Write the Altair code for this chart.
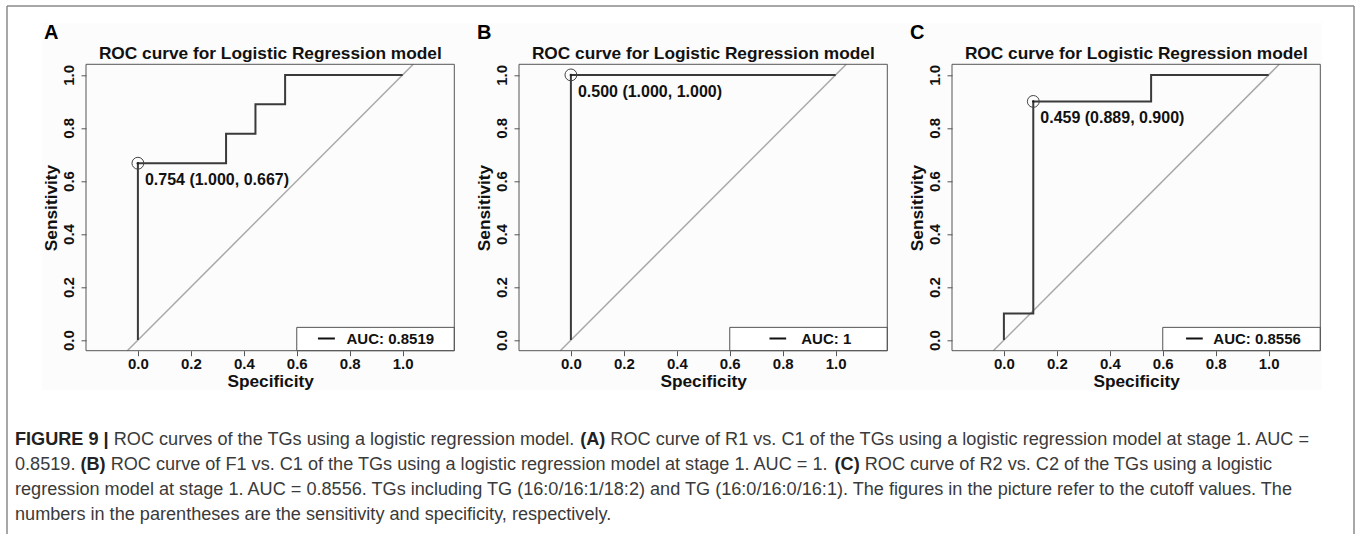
import altair as alt
import pandas as pd

# ---------------- data ----------------
PANELS = ["A", "B", "C"]
PLOT_TITLE = "ROC curve for Logistic Regression model"
TICKS = [0.0, 0.2, 0.4, 0.6, 0.8, 1.0]

roc_spec = {
    "A": [0.0, 0.0, 0.333, 0.333, 0.444, 0.444, 0.556, 0.556, 1.0],
    "B": [0.0, 0.0, 1.0],
    "C": [0.0, 0.0, 0.111, 0.111, 0.556, 0.556, 1.0],
}
roc_sens = {
    "A": [0.0, 0.667, 0.667, 0.778, 0.778, 0.889, 0.889, 1.0, 1.0],
    "B": [0.0, 1.0, 1.0],
    "C": [0.0, 0.1, 0.1, 0.9, 0.9, 1.0, 1.0],
}
best_spec = [0.0, 0.0, 0.111]
best_sens = [0.667, 1.0, 0.9]
best_label = ["0.754 (1.000, 0.667)", "0.500 (1.000, 1.000)", "0.459 (0.889, 0.900)"]
auc_label = ["AUC: 0.8519", "AUC: 1", "AUC: 0.8556"]
diag_vals = [-0.04, 1.04]

caption_lines = [
    [("FIGURE 9 |", True), (" ROC curves of the TGs using a logistic regression model. ", False),
     ("(A)", True), (" ROC curve of R1 vs. C1 of the TGs using a logistic regression model at stage 1. AUC =", False)],
    [("0.8519. ", False), ("(B)", True),
     (" ROC curve of F1 vs. C1 of the TGs using a logistic regression model at stage 1. AUC = 1. ", False),
     ("(C)", True), (" ROC curve of R2 vs. C2 of the TGs using a logistic", False)],
    [("regression model at stage 1. AUC = 0.8556. TGs including TG (16:0/16:1/18:2) and TG (16:0/16:0/16:1). "
      "The figures in the picture refer to the cutoff values. The", False)],
    [("numbers in the parentheses are the sensitivity and specificity, respectively.", False)],
]

# ---------------- layout ----------------
FONT = "Liberation Sans"
X_DOM = [-0.196, 1.195]
Y_DOM = [-0.04, 1.04]
PW, PH = 368.3, 286.4
PITCH = 433.0
ORIGIN_X, ORIGIN_Y = 86.0, 64.3
W_TOTAL, H_TOTAL = 1357, 534
VIEW_W = 2 * PITCH + PW
legend_layout = {  # line start, line end, text start (data units)
    "A": (0.68, 0.744, 0.788),
    "B": (0.75, 0.813, 0.870),
    "C": (0.688, 0.751, 0.791),
}
LEG_LEFT, LEG_TOP, LEG_Y = 0.6, 0.048, 0.006

AXIS_COL = "#555555"
TXT = "#111111"


def panel(i, name):
    off = i * PITCH
    xs = alt.Scale(domain=X_DOM, range=[off, off + PW], nice=False, zero=False)
    ys = alt.Scale(domain=Y_DOM, range=[PH, 0], nice=False, zero=False)
    xax = alt.Axis(orient="bottom", values=TICKS, format=".1f", title="Specificity",
                   domain=False, grid=False, tickSize=5, tickColor=AXIS_COL, tickWidth=1,
                   labelFont=FONT, labelFontWeight="bold", labelFontSize=15, labelColor=TXT,
                   labelBaseline="middle", labelAlign="center", labelPadding=8,
                   labelFlush=False, labelOverlap=False, zindex=2,
                   titleFont=FONT, titleFontWeight="bold", titleFontSize=17.3, titleColor=TXT,
                   titleX=off + PW / 2, titleY=31, titleBaseline="middle", titleAlign="center")
    yax = alt.Axis(orient="left", offset=-off, values=TICKS, format=".1f", title="Sensitivity",
                   domain=False, grid=False, tickSize=5, tickColor=AXIS_COL, tickWidth=1,
                   labelFont=FONT, labelFontWeight="bold", labelFontSize=15, labelColor=TXT,
                   labelAngle=270, labelAlign="center", labelBaseline="middle", labelPadding=13,
                   labelFlush=False, labelOverlap=False, zindex=2,
                   titleFont=FONT, titleFontWeight="bold", titleFontSize=17.3, titleColor=TXT,
                   titleX=-34.5, titleY=PH / 2, titleAngle=270, titleAlign="center",
                   titleBaseline="middle")
    X = alt.X("x:Q", scale=xs, axis=xax)
    Y = alt.Y("y:Q", scale=ys, axis=yax)

    diag = alt.Chart(pd.DataFrame({"x": diag_vals, "y": diag_vals})).mark_line(
        color="#a8a8a8", strokeWidth=1.5).encode(x=X, y=Y)

    curve_df = pd.DataFrame({"x": roc_spec[name], "y": roc_sens[name],
                             "o": list(range(len(roc_spec[name])))})
    curve = alt.Chart(curve_df).mark_line(color="#3a3a3a", strokeWidth=2).encode(
        x=X, y=Y, order="o:Q")

    l0, l1, lt = legend_layout[name]
    leg_box = alt.Chart(pd.DataFrame({"x": [LEG_LEFT], "x2": [X_DOM[1]],
                                      "y": [Y_DOM[0]], "y2": [LEG_TOP]})).mark_rect(
        fill="white", stroke=AXIS_COL, strokeWidth=1).encode(
        x=X, x2="x2:Q", y=Y, y2="y2:Q")
    leg_line = alt.Chart(pd.DataFrame({"x": [l0], "x2": [l1], "y": [LEG_Y]})).mark_rule(
        color="#111", strokeWidth=2).encode(x=X, x2="x2:Q", y=Y)
    leg_txt = alt.Chart(pd.DataFrame({"x": [lt], "y": [LEG_Y], "t": [auc_label[i]]})).mark_text(
        align="left", baseline="middle", font=FONT, fontWeight="bold", fontSize=15,
        color=TXT).encode(x=X, y=Y, text="t:N")

    pt_df = pd.DataFrame({"x": [best_spec[i]], "y": [best_sens[i]], "t": [best_label[i]]})
    circ = alt.Chart(pt_df).mark_point(shape="circle", size=140, filled=False,
                                       color="#444", strokeWidth=1, opacity=1).encode(x=X, y=Y)
    dot = alt.Chart(pt_df).mark_point(shape="circle", size=6, filled=True,
                                      color="#222", opacity=1).encode(x=X, y=Y)
    pt_txt = alt.Chart(pt_df).mark_text(align="left", baseline="middle", dx=7, dy=17,
                                        font=FONT, fontWeight="bold", fontSize=16,
                                        color=TXT).encode(x=X, y=Y, text="t:N")

    box = alt.Chart(pd.DataFrame({"x": [X_DOM[0]], "x2": [X_DOM[1]],
                                  "y": [Y_DOM[0]], "y2": [Y_DOM[1]]})).mark_rect(
        fillOpacity=0, stroke=AXIS_COL, strokeWidth=1).encode(x=X, x2="x2:Q", y=Y, y2="y2:Q")

    title = alt.Chart(pd.DataFrame({"x": [0.5], "t": [PLOT_TITLE]})).mark_text(
        align="center", baseline="middle", font=FONT, fontWeight="bold", fontSize=17.3,
        color=TXT).encode(x=X, y=alt.value(54 - ORIGIN_Y), text="t:N")
    letter = alt.Chart(pd.DataFrame({"x": [-0.355], "t": [name]})).mark_text(
        align="left", baseline="middle", font=FONT, fontWeight="bold", fontSize=20,
        color="#000").encode(x=X, y=alt.value(33 - ORIGIN_Y), text="t:N")

    return alt.layer(diag, curve, leg_box, leg_line, leg_txt, circ, dot, pt_txt, box,
                     title, letter)


# ---------------- caption (text positions computed from Arial metrics) ----------------
_reg = {' ': 278, '(': 333, ')': 333, ',': 278, '-': 333, '.': 278, '/': 278, ':': 278,
        '=': 584, '|': 260,
        'A': 667, 'B': 667, 'C': 722, 'D': 722, 'E': 667, 'F': 611, 'G': 778, 'H': 722,
        'I': 278, 'J': 500, 'K': 667, 'L': 556, 'M': 833, 'N': 722, 'O': 778, 'P': 667,
        'Q': 778, 'R': 722, 'S': 667, 'T': 611, 'U': 722, 'V': 667, 'W': 944, 'X': 667,
        'Y': 667, 'Z': 611,
        'a': 556, 'b': 556, 'c': 500, 'd': 556, 'e': 556, 'f': 278, 'g': 556, 'h': 556,
        'i': 222, 'j': 222, 'k': 500, 'l': 222, 'm': 833, 'n': 556, 'o': 556, 'p': 556,
        'q': 556, 'r': 333, 's': 500, 't': 278, 'u': 556, 'v': 500, 'w': 722, 'x': 500,
        'y': 500, 'z': 500}
for d in "0123456789":
    _reg[d] = 556
_bold = {' ': 278, '(': 333, ')': 333, '.': 278, '|': 280, 'A': 722, 'B': 722, 'C': 722,
         'E': 667, 'F': 611, 'G': 778, 'I': 278, 'R': 722, 'U': 722}
for d in "0123456789":
    _bold[d] = 556


def em(s, bold):
    tab = _bold if bold else _reg
    return sum(tab.get(c, 556) for c in s) / 1000.0


CAP_X0, CAP_X1 = 15.0, 1311.0
CAP_Y = [440, 465, 490, 515]
cap_size = (CAP_X1 - CAP_X0) / sum(em(t, b) for t, b in caption_lines[0])

rows = []
for li, segs in enumerate(caption_lines):
    x = CAP_X0
    for t, b in segs:
        lead = len(t) - len(t.lstrip(" "))
        rows.append({"px": x + em(" " * lead, b) * cap_size - ORIGIN_X,
                     "py": CAP_Y[li] - ORIGIN_Y, "t": t.strip(), "bold": b})
        x += em(t, b) * cap_size
cap_df = pd.DataFrame(rows)

PX = alt.X("px:Q", scale=None, axis=None)
PY = alt.Y("py:Q", scale=None, axis=None)
cap_reg = alt.Chart(cap_df[~cap_df["bold"]]).mark_text(
    align="left", baseline="middle", font=FONT, fontSize=cap_size, color="#3a3a3a").encode(
    x=PX, y=PY, text="t:N")
cap_bold = alt.Chart(cap_df[cap_df["bold"]]).mark_text(
    align="left", baseline="middle", font=FONT, fontSize=cap_size, fontWeight="bold",
    color="#222").encode(x=PX, y=PY, text="t:N")

one = pd.DataFrame({"k": [0]})
tint = alt.Chart(one).mark_rect(fill="#fcfcfc").encode(
    x=alt.value(42 - ORIGIN_X), x2=alt.value(1322 - ORIGIN_X),
    y=alt.value(23 - ORIGIN_Y), y2=alt.value(390 - ORIGIN_Y))
FR = dict(color="#8a8a8a", strokeWidth=1.5)
frame_l = alt.Chart(one).mark_rule(**FR).encode(
    x=alt.value(7 - ORIGIN_X), y=alt.value(6 - ORIGIN_Y), y2=alt.value(H_TOTAL + 5 - ORIGIN_Y))
frame_r = alt.Chart(one).mark_rule(**FR).encode(
    x=alt.value(1354 - ORIGIN_X), y=alt.value(6 - ORIGIN_Y), y2=alt.value(H_TOTAL + 5 - ORIGIN_Y))
frame_t = alt.Chart(one).mark_rule(**FR).encode(
    x=alt.value(7 - ORIGIN_X), x2=alt.value(1354 - ORIGIN_X), y=alt.value(6 - ORIGIN_Y))

deco = alt.layer(tint, frame_l, frame_r, frame_t, cap_reg, cap_bold)

chart = alt.layer(deco, *[panel(i, n) for i, n in enumerate(PANELS)]).resolve_scale(
    x="independent", y="independent").properties(
    width=VIEW_W, height=PH,
    padding={"left": ORIGIN_X, "top": ORIGIN_Y,
             "right": W_TOTAL - ORIGIN_X - VIEW_W, "bottom": H_TOTAL - ORIGIN_Y - PH},
    autosize=alt.AutoSizeParams(type="none"),
    background="white",
).configure_view(stroke="transparent")

chart.save("out.html", embed_options={"renderer": "svg", "actions": False})
